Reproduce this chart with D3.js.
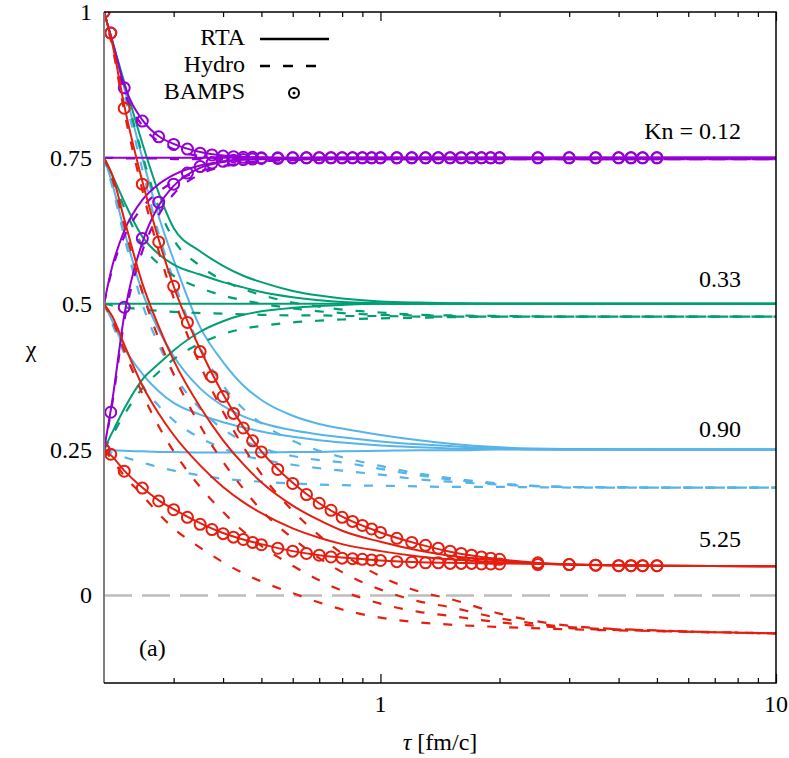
<!DOCTYPE html>
<html><head><meta charset="utf-8">
<script src="https://cdn.jsdelivr.net/npm/d3@7"></script>
<style>body{margin:0;background:#fff}</style>
</head><body>
<svg id="chart" width="789" height="758"></svg>
<script>
// ---------- data ----------
const tauGrid = [0.2, 0.21, 0.225, 0.25, 0.275, 0.3, 0.35, 0.4, 0.45, 0.5, 0.6, 0.7, 0.8, 1.0, 1.25, 1.5, 2, 3, 5, 10];
const initValues = [1, 0.75, 0.5, 0.25];
const knLabels = ["Kn = 0.12", "0.33", "0.90", "5.25"];
const knLabelValues = [0.782, 0.529, 0.272, 0.083];

// Kn = 0.12 (purple)
const rtaKn012 = [
  [1, 0.95, 0.875, 0.815, 0.787, 0.774, 0.76, 0.754, 0.752, 0.751, 0.75, 0.75, 0.75, 0.75, 0.75, 0.75, 0.75, 0.75, 0.75, 0.75],
  [0.75, 0.75, 0.75, 0.75, 0.75, 0.75, 0.75, 0.75, 0.75, 0.75, 0.75, 0.75, 0.75, 0.75, 0.75, 0.75, 0.75, 0.75, 0.75, 0.75],
  [0.5, 0.565, 0.625, 0.678, 0.705, 0.721, 0.737, 0.744, 0.747, 0.748, 0.749, 0.75, 0.75, 0.75, 0.75, 0.75, 0.75, 0.75, 0.75, 0.75],
  [0.25, 0.335, 0.48, 0.605, 0.668, 0.702, 0.733, 0.743, 0.747, 0.748, 0.749, 0.75, 0.75, 0.75, 0.75, 0.75, 0.75, 0.75, 0.75, 0.75]
];
const hydroKn012 = [
  [1, 0.945, 0.865, 0.805, 0.778, 0.765, 0.753, 0.75, 0.749, 0.749, 0.748, 0.748, 0.748, 0.748, 0.748, 0.748, 0.748, 0.748, 0.748, 0.748],
  [0.75, 0.75, 0.749, 0.749, 0.749, 0.748, 0.748, 0.748, 0.748, 0.748, 0.748, 0.748, 0.748, 0.748, 0.748, 0.748, 0.748, 0.748, 0.748, 0.748],
  [0.5, 0.56, 0.615, 0.665, 0.692, 0.709, 0.727, 0.736, 0.741, 0.744, 0.746, 0.747, 0.748, 0.748, 0.748, 0.748, 0.748, 0.748, 0.748, 0.748],
  [0.25, 0.33, 0.47, 0.59, 0.652, 0.688, 0.722, 0.735, 0.741, 0.744, 0.746, 0.747, 0.748, 0.748, 0.748, 0.748, 0.748, 0.748, 0.748, 0.748]
];
// Kn = 0.33 (green)
const rtaKn033 = [
  [1, 0.95, 0.88, 0.775, 0.69, 0.63, 0.59, 0.565, 0.548, 0.537, 0.522, 0.514, 0.509, 0.504, 0.502, 0.501, 0.5, 0.5, 0.5, 0.5],
  [0.75, 0.72, 0.675, 0.615, 0.585, 0.567, 0.55, 0.537, 0.528, 0.52, 0.511, 0.506, 0.503, 0.501, 0.5, 0.5, 0.5, 0.5, 0.5, 0.5],
  [0.5, 0.5, 0.5, 0.5, 0.5, 0.5, 0.5, 0.5, 0.5, 0.5, 0.5, 0.5, 0.5, 0.5, 0.5, 0.5, 0.5, 0.5, 0.5, 0.5],
  [0.25, 0.28, 0.32, 0.37, 0.397, 0.42, 0.452, 0.47, 0.481, 0.487, 0.493, 0.496, 0.498, 0.5, 0.5, 0.5, 0.5, 0.5, 0.5, 0.5]
];
const hydroKn033 = [
  [1, 0.945, 0.87, 0.755, 0.665, 0.61, 0.565, 0.54, 0.525, 0.515, 0.502, 0.495, 0.49, 0.485, 0.481, 0.48, 0.479, 0.478, 0.478, 0.478],
  [0.75, 0.715, 0.665, 0.6, 0.568, 0.548, 0.527, 0.514, 0.506, 0.5, 0.492, 0.487, 0.484, 0.481, 0.48, 0.479, 0.478, 0.478, 0.478, 0.478],
  [0.5, 0.497, 0.494, 0.49, 0.488, 0.486, 0.484, 0.483, 0.482, 0.481, 0.48, 0.48, 0.479, 0.479, 0.478, 0.478, 0.478, 0.478, 0.478, 0.478],
  [0.25, 0.275, 0.31, 0.355, 0.383, 0.405, 0.432, 0.448, 0.457, 0.462, 0.468, 0.471, 0.473, 0.475, 0.476, 0.477, 0.478, 0.478, 0.478, 0.478]
];
// Kn = 0.90 (blue)
const rtaKn090 = [
  [1, 0.95, 0.87, 0.75, 0.65, 0.575, 0.46, 0.40, 0.36, 0.335, 0.308, 0.294, 0.286, 0.275, 0.266, 0.26, 0.254, 0.251, 0.25, 0.25],
  [0.75, 0.705, 0.625, 0.52, 0.455, 0.41, 0.355, 0.325, 0.307, 0.296, 0.283, 0.276, 0.271, 0.264, 0.259, 0.256, 0.252, 0.25, 0.25, 0.25],
  [0.5, 0.47, 0.425, 0.38, 0.35, 0.33, 0.31, 0.297, 0.288, 0.281, 0.272, 0.266, 0.262, 0.257, 0.254, 0.252, 0.251, 0.25, 0.25, 0.25],
  [0.25, 0.249, 0.248, 0.247, 0.246, 0.246, 0.245, 0.245, 0.245, 0.245, 0.246, 0.246, 0.247, 0.248, 0.249, 0.249, 0.25, 0.25, 0.25, 0.25]
];
const hydroKn090 = [
  [1, 0.945, 0.86, 0.73, 0.62, 0.54, 0.425, 0.36, 0.32, 0.295, 0.265, 0.248, 0.237, 0.222, 0.209, 0.201, 0.192, 0.186, 0.185, 0.185],
  [0.75, 0.7, 0.615, 0.5, 0.43, 0.38, 0.32, 0.285, 0.265, 0.253, 0.239, 0.232, 0.228, 0.217, 0.206, 0.199, 0.191, 0.186, 0.185, 0.185],
  [0.5, 0.465, 0.415, 0.36, 0.325, 0.3, 0.27, 0.252, 0.24, 0.233, 0.224, 0.218, 0.214, 0.207, 0.199, 0.195, 0.19, 0.186, 0.185, 0.185],
  [0.25, 0.244, 0.237, 0.228, 0.22, 0.214, 0.206, 0.2, 0.197, 0.195, 0.192, 0.19, 0.189, 0.188, 0.187, 0.186, 0.186, 0.185, 0.185, 0.185]
];
// Kn = 5.25 (red)
const rtaKn525 = [
  [1, 0.945, 0.84, 0.71, 0.61, 0.53, 0.422, 0.345, 0.289, 0.247, 0.193, 0.158, 0.135, 0.108, 0.088, 0.075, 0.062, 0.053, 0.051, 0.05],
  [0.75, 0.72, 0.645, 0.535, 0.461, 0.403, 0.323, 0.266, 0.225, 0.194, 0.154, 0.129, 0.111, 0.092, 0.077, 0.068, 0.06, 0.053, 0.051, 0.05],
  [0.5, 0.478, 0.43, 0.36, 0.312, 0.275, 0.223, 0.186, 0.16, 0.141, 0.115, 0.099, 0.088, 0.076, 0.067, 0.062, 0.057, 0.053, 0.051, 0.05],
  [0.25, 0.238, 0.214, 0.185, 0.163, 0.148, 0.124, 0.107, 0.096, 0.088, 0.076, 0.069, 0.065, 0.06, 0.057, 0.056, 0.055, 0.053, 0.051, 0.05]
];
const hydroKn525 = [
  [1, 0.94, 0.83, 0.695, 0.59, 0.51, 0.395, 0.315, 0.255, 0.208, 0.145, 0.103, 0.072, 0.033, 0.007, -0.006, -0.031, -0.052, -0.06, -0.065],
  [0.75, 0.714, 0.635, 0.52, 0.44, 0.379, 0.291, 0.229, 0.183, 0.146, 0.098, 0.064, 0.04, 0.01, -0.01, -0.02, -0.039, -0.054, -0.06, -0.065],
  [0.5, 0.472, 0.42, 0.346, 0.29, 0.247, 0.186, 0.143, 0.11, 0.085, 0.051, 0.026, 0.008, -0.014, -0.028, -0.035, -0.046, -0.056, -0.061, -0.065],
  [0.25, 0.232, 0.205, 0.172, 0.14, 0.115, 0.082, 0.057, 0.038, 0.024, 0.004, -0.012, -0.024, -0.038, -0.046, -0.05, -0.054, -0.058, -0.061, -0.065]
];

// BAMPS points
const bampsTau = [0.2, 0.208, 0.225, 0.25, 0.275, 0.3, 0.325, 0.35, 0.375, 0.4, 0.425, 0.45, 0.475, 0.5, 0.55, 0.6, 0.65, 0.7, 0.75, 0.8, 0.85, 0.9, 0.95, 1.0, 1.1, 1.2, 1.3, 1.4, 1.5, 1.6, 1.7, 1.8, 1.9, 2.0, 2.5, 3.0, 3.5, 4.0, 4.3, 4.6, 5.0];
const bampsKn012From1 = [1.0, 0.964, 0.87, 0.813, 0.786, 0.773, 0.765, 0.758, 0.755, 0.753, 0.752, 0.751, 0.751, 0.75, 0.75, 0.75, 0.75, 0.75, 0.75, 0.75, 0.75, 0.75, 0.75, 0.75, 0.75, 0.75, 0.75, 0.75, 0.75, 0.75, 0.75, 0.75, 0.75, 0.75, 0.75, 0.75, 0.75, 0.75, 0.75, 0.75, 0.75];
const bampsKn012From025 = [0.25, 0.314, 0.494, 0.612, 0.674, 0.705, 0.724, 0.735, 0.741, 0.744, 0.746, 0.747, 0.748, 0.749, 0.749, 0.75, 0.75, 0.75, 0.75, 0.75, 0.75, 0.75, 0.75, 0.75, 0.75, 0.75, 0.75, 0.75, 0.75, 0.75, 0.75, 0.75, 0.75, 0.75, 0.75, 0.75, 0.75, 0.75, 0.75, 0.75, 0.75];
const bampsKn525From1 = [1.0, 0.964, 0.835, 0.705, 0.606, 0.53, 0.468, 0.418, 0.375, 0.341, 0.312, 0.287, 0.265, 0.246, 0.216, 0.192, 0.173, 0.158, 0.146, 0.134, 0.127, 0.120, 0.114, 0.108, 0.098, 0.091, 0.086, 0.081, 0.076, 0.072, 0.069, 0.066, 0.064, 0.062, 0.056, 0.053, 0.052, 0.051, 0.051, 0.051, 0.051];
const bampsKn525From025 = [0.25, 0.242, 0.213, 0.184, 0.162, 0.147, 0.134, 0.122, 0.113, 0.106, 0.1, 0.096, 0.091, 0.087, 0.081, 0.076, 0.072, 0.069, 0.066, 0.064, 0.063, 0.062, 0.061, 0.06, 0.058, 0.057, 0.056, 0.056, 0.055, 0.055, 0.055, 0.054, 0.054, 0.054, 0.053, 0.053, 0.052, 0.051, 0.051, 0.051, 0.051];

const xMinorTicks = [0.3, 0.4, 0.5, 0.6, 0.7, 0.8, 0.9, 2, 3, 4, 5, 6, 7, 8, 9];
const xMajorTicks = [1, 10];
const xTickLabels = ["1", "10"];
const yTicks = [0, 0.25, 0.5, 0.75, 1];
const yTickLabels = ["0", "0.25", "0.5", "0.75", "1"];

// ---------- drawing ----------
const colors = {p: "#9400d3", g: "#009e73", b: "#56b4e9", r: "#e51e10"};
const svg = d3.select("#chart");
const L = 104, R = 776, T = 12, B = 683;
const x = d3.scaleLog().domain([0.2, 10]).range([L, R]);
const y = d3.scaleLinear().domain([-0.15, 1]).range([B, T]);

// all texts first (plain svg text, serif family)
function txt(xp, yp, s, anchor, fam) {
  return svg.append("text").attr("x", xp).attr("y", yp).attr("text-anchor", anchor || "start")
    .attr("font-family", fam).attr("font-size", 24).text(s);
}
txt(31, 357, "χ", "middle", "Times New Roman");
const xt = txt(440, 750, "", "middle", "Times New Roman");
xt.append("tspan").attr("font-style", "italic").text("τ");
xt.append("tspan").text(" [fm/c]");
knLabels.forEach((t, i) => txt(741, y(knLabelValues[i]), t, "end", "Liberation Serif"));
txt(139, 656, "(a)", "start", "serif");
const legNames = ["RTA", "Hydro", "BAMPS"];
const legFonts = ["serif", "Times New Roman", "Tinos"];
const legY = [45, 72, 99];
legNames.forEach((t, i) => txt(245, legY[i], t, "end", legFonts[i]));
yTicks.forEach((v, i) => txt(92, y(v) + 8, yTickLabels[i], "end", "Liberation Serif"));
xMajorTicks.forEach((v, i) => txt(x(v), 712, xTickLabels[i], "middle", "Liberation Serif"));

svg.append("defs").append("clipPath").attr("id", "clip")
  .append("rect").attr("x", L).attr("y", T).attr("width", R - L).attr("height", B - T);
const plot = svg.append("g").attr("clip-path", "url(#clip)");

// zero reference line
plot.append("line").attr("x1", L).attr("x2", R).attr("y1", y(0)).attr("y2", y(0))
  .attr("stroke", "#bdbdbd").attr("stroke-width", 2.5).attr("stroke-dasharray", "28,10");

const line = d3.line().x((d, i) => x(tauGrid[i])).y(d => y(d)).curve(d3.curveMonotoneX);

function drawGroup(hydro, rta, col, bamps) {
  const g = plot.append("g");
  hydro.forEach(s => g.append("path").attr("d", line(s)).attr("fill", "none")
    .attr("stroke", col).attr("stroke-width", 2.2).attr("stroke-dasharray", "9,13"));
  rta.forEach(s => g.append("path").attr("d", line(s)).attr("fill", "none")
    .attr("stroke", col).attr("stroke-width", 2));
  bamps.forEach(s => g.selectAll(null).data(s).enter().append("circle")
    .attr("cx", (d, i) => x(bampsTau[i])).attr("cy", d => y(d)).attr("r", 5.5)
    .attr("fill", "none").attr("stroke", col).attr("stroke-width", 2));
}
drawGroup(hydroKn090, rtaKn090, colors.b, []);
drawGroup(hydroKn033, rtaKn033, colors.g, []);
drawGroup(hydroKn012, rtaKn012, colors.p, [bampsKn012From1, bampsKn012From025]);
drawGroup(hydroKn525, rtaKn525, colors.r, [bampsKn525From1, bampsKn525From025]);

// frame
svg.append("line").attr("x1", L).attr("x2", L).attr("y1", T).attr("y2", B).attr("stroke", "#808080").attr("stroke-width", 2);
svg.append("path").attr("d", `M${L},${T}H${R}V${B}H${L}`).attr("fill", "none").attr("stroke", "#000").attr("stroke-width", 1.5);

// x ticks (inward, bottom and top), no labels from the axis itself
const axes = [
  svg.append("g").attr("transform", `translate(0,${B})`).call(d3.axisBottom(x).tickValues(xMinorTicks).tickSize(-5).tickFormat("")),
  svg.append("g").attr("transform", `translate(0,${B})`).call(d3.axisBottom(x).tickValues(xMajorTicks).tickSize(-9).tickFormat("")),
  svg.append("g").attr("transform", `translate(0,${T})`).call(d3.axisTop(x).tickValues(xMinorTicks).tickSize(-5).tickFormat("")),
  svg.append("g").attr("transform", `translate(0,${T})`).call(d3.axisTop(x).tickValues(xMajorTicks).tickSize(-9).tickFormat(""))
];
axes.forEach(a => {
  a.select(".domain").remove();
  a.selectAll(".tick text").remove();
  a.selectAll(".tick line").attr("stroke", "#000").attr("stroke-width", 1.2);
});

// legend samples
svg.append("line").attr("x1", 260).attr("x2", 329).attr("y1", 39).attr("y2", 39).attr("stroke", "#000").attr("stroke-width", 2.5);
svg.append("line").attr("x1", 260).attr("x2", 320).attr("y1", 66).attr("y2", 66).attr("stroke", "#000").attr("stroke-width", 2.5).attr("stroke-dasharray", "10,13");
svg.append("circle").attr("cx", 294).attr("cy", 93).attr("r", 5).attr("fill", "none").attr("stroke", "#000").attr("stroke-width", 2);
svg.append("circle").attr("cx", 294).attr("cy", 93).attr("r", 1.5).attr("fill", "#000");
</script>
</body></html>
